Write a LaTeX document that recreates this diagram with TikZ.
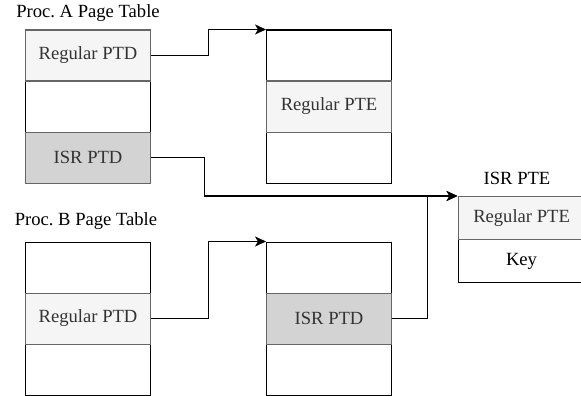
\documentclass[tikz,border=0pt]{standalone}
\usepackage{fontspec}
\setmainfont{Liberation Serif}
\usetikzlibrary{arrows.meta}
\frenchspacing
\definecolor{edgegrey}{HTML}{666666}
\definecolor{regfill}{HTML}{F5F5F5}
\definecolor{isrfill}{HTML}{D3D3D3}
\definecolor{txtgrey}{HTML}{333333}
\tikzset{
  cell/.style={draw=black, fill=white, line width=1.1pt, minimum width=125pt,
    minimum height=51pt, inner sep=0pt, anchor=north west,
    font=\fontsize{18.6}{20}\selectfont, text=black},
  regcell/.style={cell, draw=edgegrey, fill=regfill, text=txtgrey},
  isrcell/.style={cell, draw=edgegrey, fill=isrfill, text=txtgrey},
  pte/.style={minimum height=43pt},
  caption/.style={font=\fontsize{18.6}{20}\selectfont, inner sep=0pt},
  link/.style={draw=black, line width=1.1pt, -{Stealth[length=11pt,width=10pt,inset=3pt]}},
}
\begin{document}
\begin{tikzpicture}[x=1pt, y=-1pt]
\useasboundingbox (0,0) rectangle (581,396);

% captions
\node[caption] (capA) at (88,13) {Proc. A Page Table};
\node[caption] (capB) at (86,221) {Proc. B Page Table};
\node[caption] (capK) at (517,178) {ISR PTE};

% process A page table
\node[cell]    (a2) at (25,80.5)  {};
\node[regcell] (a1) at (25,29.5)  {Regular PTD};
\node[isrcell] (a3) at (25,131.5) {ISR PTD};

% table reached from process A
\node[cell]    (p1) at (266,29.5)  {};
\node[cell]    (p3) at (266,131.5) {};
\node[regcell] (p2) at (266,80.5)  {Regular PTE};

% process B page table
\node[cell]    (b1) at (25,241.5) {};
\node[cell]    (b3) at (25,343.5) {};
\node[regcell] (b2) at (25,292.5) {Regular PTD};

% table reached from process B
\node[cell]    (q1) at (266,241.5) {};
\node[cell]    (q3) at (266,343.5) {};
\node[isrcell] (q2) at (266,292.5) {ISR PTD};

% ISR page table entry (runs past the right edge)
\node[cell, pte, minimum width=127pt]    (k2) at (457.5,239) {Key};
\node[regcell, pte, minimum width=127pt] (k1) at (457.5,196) {Regular PTE};

% connectors
\draw[link] (a1.east) -- ++(57,0) |- (p1.north west);
\draw[link] (a3.east) -- ++(53,0) |- (k1.north west);
\draw[link] (b2.east) -- ++(57,0) |- (q1.north west);
\draw[link] (q2.east) -- ++(35,0) |- (k1.north west);
\end{tikzpicture}
\end{document}
